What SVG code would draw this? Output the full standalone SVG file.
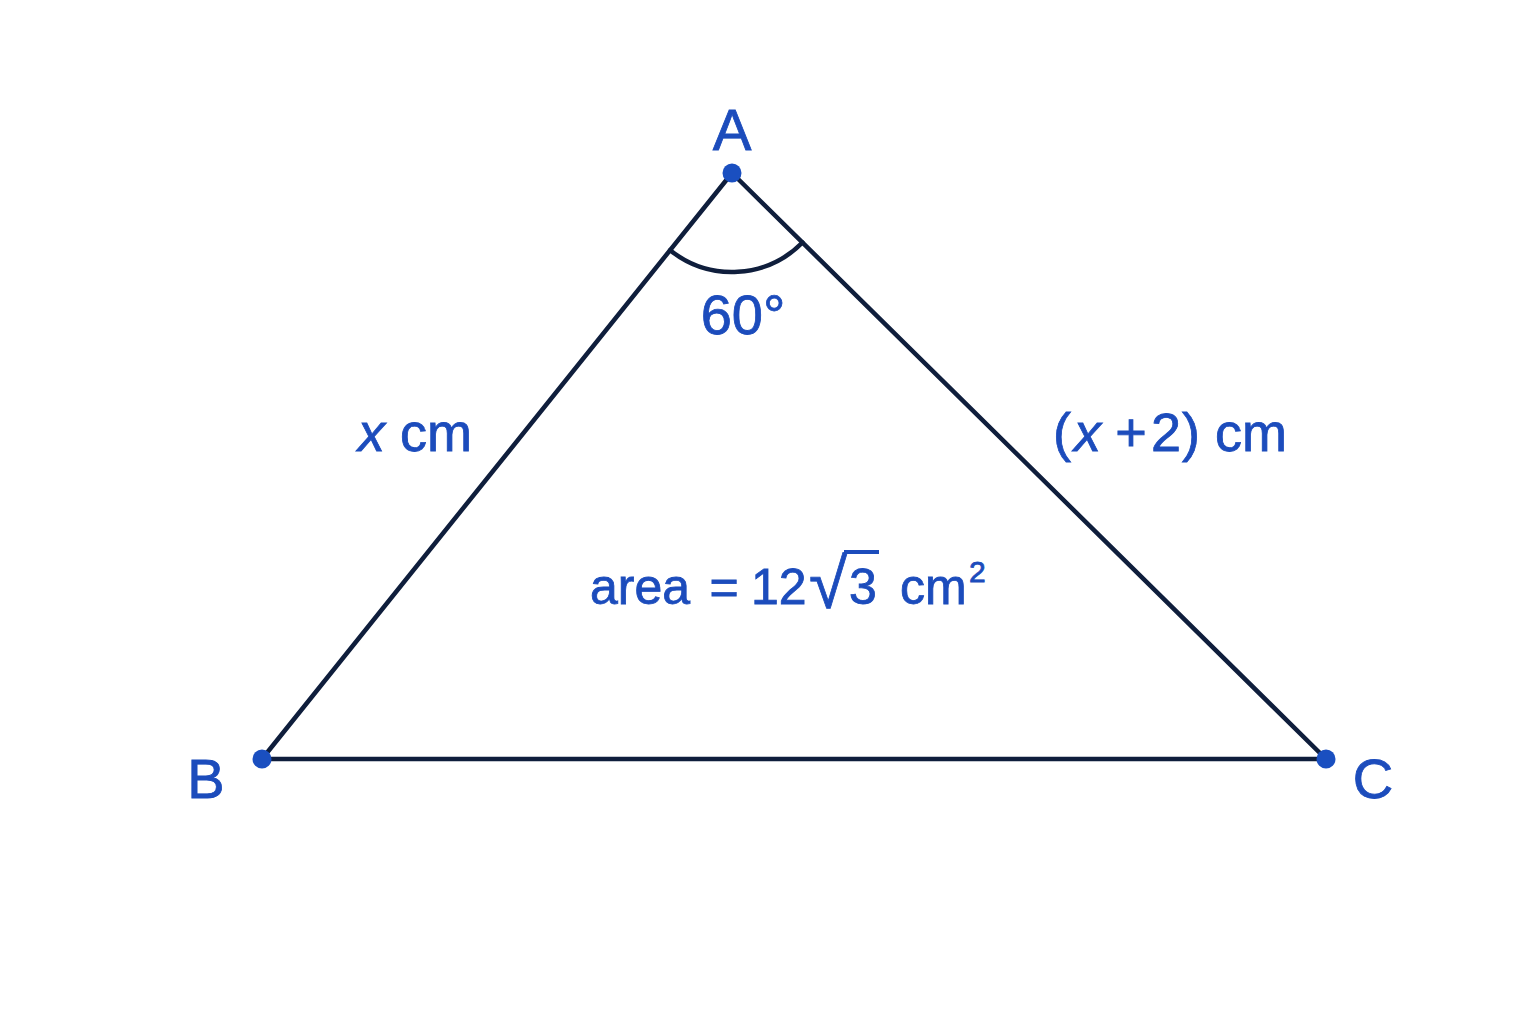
<svg xmlns="http://www.w3.org/2000/svg" width="1536" height="1024" viewBox="0 0 1536 1024">
<style>
.edge{stroke:#0f1e3c;stroke-width:4.5;fill:none;stroke-linecap:round}
.dot{fill:#1a4fc0}
.lbl{font-family:"Liberation Sans",Arial,sans-serif;fill:#1c4cbc;stroke:#1c4cbc;stroke-width:0.8}
.it{font-style:italic}
</style>
<rect width="1536" height="1024" fill="#ffffff"/>
<g id="connectors">
<line class="edge" x1="732" y1="173" x2="262" y2="759"/>
<line class="edge" x1="732" y1="173" x2="1326" y2="759"/>
<line class="edge" x1="262" y1="759" x2="1326" y2="759"/>
<path class="edge" d="M670.1 250.2 A99 99 0 0 0 802.5 242.5"/>
</g>
<g id="A"><circle class="dot" cx="732" cy="173" r="9.5"/><text class="lbl" x="732" y="150" font-size="58" text-anchor="middle">A</text></g>
<g id="B"><circle class="dot" cx="262" cy="759" r="9.5"/><text class="lbl" x="206" y="798" font-size="56" text-anchor="middle">B</text></g>
<g id="C"><circle class="dot" cx="1326" cy="759" r="9.5"/><text class="lbl" x="1373" y="798" font-size="56" text-anchor="middle">C</text></g>
<g id="angle"><text class="lbl" x="743" y="334" font-size="56" text-anchor="middle">60°</text></g>
<g id="sideAB"><text class="lbl" x="358" y="451" font-size="54"><tspan class="it">x</tspan> cm</text></g>
<g id="sideAC">
<text class="lbl" x="1053" y="451" font-size="54">(</text>
<text class="lbl it" x="1074" y="451" font-size="54">x</text>
<text class="lbl" x="1131" y="451" font-size="54" text-anchor="middle">+</text>
<text class="lbl" x="1151" y="451" font-size="54">2</text>
<text class="lbl" x="1182" y="451" font-size="54">)</text>
<text class="lbl" x="1215" y="451" font-size="54">cm</text>
</g>
<g id="area">
<text class="lbl" x="590" y="604" font-size="50">area</text>
<text class="lbl" x="724" y="604" font-size="50" text-anchor="middle">=</text>
<text class="lbl" x="751" y="604" font-size="50">12</text>
<text class="lbl" x="809" y="608" font-size="70">√</text>
<line x1="844" y1="552" x2="879" y2="552" stroke="#1c4cbc" stroke-width="4"/>
<text class="lbl" x="849" y="604" font-size="50">3</text>
<text class="lbl" x="900" y="604" font-size="50">cm</text>
<text class="lbl" x="969" y="582" font-size="30">2</text>
</g>
</svg>
